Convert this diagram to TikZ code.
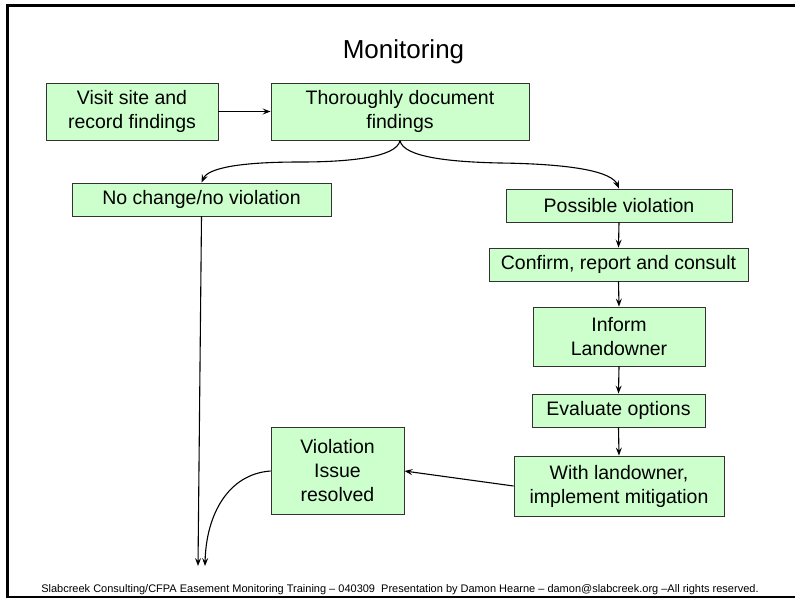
\documentclass[tikz,border=0pt]{standalone}
\usepackage{fontspec}
\setmainfont{Liberation Sans}
\usetikzlibrary{arrows.meta}
\begin{document}
\begin{tikzpicture}[x=1pt,y=-1pt,
  stepbox/.style={draw=black!80,line width=0.9pt,fill=green!20!white,
    rectangle,inner sep=0pt,align=center,
    font=\fontsize{19.5}{24}\selectfont},
  flow/.style={draw=black,line width=1.1pt,
    -{Stealth[length=8pt,width=6pt,inset=3pt]}}
]
\useasboundingbox (0,0) rectangle (795,598);
% page frame
\draw[line width=3pt] (795,5) -- (7,5) -- (7,597);
\draw[line width=1.2pt] (6,597) -- (795,597);

% title
\node[anchor=base,font=\fontsize{26}{30}\selectfont] (title) at (403.5,58) {Monitoring};

% steps
\node[stepbox,minimum width=172pt,minimum height=57pt] (visit) at (132,111.5) {Visit site and\\record findings};
\node[stepbox,minimum width=258pt,minimum height=57pt] (doc) at (400,111.5) {Thoroughly document\\findings};
\node[stepbox,minimum width=259pt,minimum height=33pt] (nochange) at (201.5,199.5) {No change/no violation};
\node[stepbox,minimum width=226pt,minimum height=33pt] (possible) at (619,205.5) {Possible violation};
\node[stepbox,minimum width=259pt,minimum height=33pt] (confirm) at (618.5,264.5) {Confirm, report and consult};
\node[stepbox,minimum width=172pt,minimum height=59pt] (inform) at (619,336.5) {Inform\\Landowner};
\node[stepbox,minimum width=173pt,minimum height=33pt] (evaluate) at (618.5,410.5) {Evaluate options};
\node[stepbox,minimum width=210pt,minimum height=60pt] (mitigate) at (619,486) {With landowner,\\implement mitigation};
\node[stepbox,minimum width=133pt,minimum height=87pt] (resolved) at (337.5,471) {Violation\\Issue\\resolved};

% open ends at the bottom
\coordinate (endA) at (198,566);
\coordinate (endB) at (205,566);

% connectors
\draw[flow] (visit.east) -- (doc.west);
\draw[flow] (doc.south) .. controls (397,158) and (345,162) .. (300,162)
  .. controls (240,162) and (208,168) .. (nochange.north);
\draw[flow] (doc.south) .. controls (403,158) and (455,162) .. (500,163)
  .. controls (575,164) and (612,172) .. (possible.north);
\draw[flow] (possible.south) -- (confirm.north);
\draw[flow] (confirm.south) -- (inform.north);
\draw[flow] (inform.south) -- (evaluate.north);
\draw[flow] (evaluate.south) -- (mitigate.north);
\draw[flow] (mitigate.west) -- (resolved.east);
\draw[flow] (nochange.south) -- (endA);
\draw[flow] (resolved.west) .. controls (228,474) and (206,515) .. (endB);

% footer
\node[anchor=base,font=\fontsize{11}{13}\selectfont] (footer) at (400,592)
  {Slabcreek Consulting/CFPA Easement Monitoring Training -- 040309\ \ Presentation by Damon Hearne -- damon@slabcreek.org --All rights reserved.};
\end{tikzpicture}
\end{document}
